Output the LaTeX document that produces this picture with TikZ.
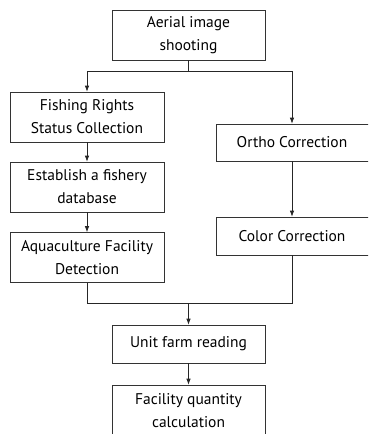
\documentclass[tikz,border=0pt]{standalone}
\usepackage{fontspec}
\setmainfont{PT Sans}
\usetikzlibrary{arrows.meta,positioning}

\tikzset{
  box/.style={draw=black!80, line width=0.7pt, minimum height=50pt,
    align=center, inner sep=2pt, font=\fontsize{15.5}{23}\selectfont},
  flow/.style={draw=black!85, line width=0.7pt, -{Latex[length=6pt,width=4.5pt]}},
  link/.style={draw=black!85, line width=0.7pt}
}

\begin{document}
\begin{tikzpicture}[x=1pt,y=-1pt]
  \useasboundingbox (0,0) rectangle (368,434);
  \clip (0,0) rectangle (368,434);

  % boxes
  \node[box, minimum width=153pt] (aerial) at (188.5,35) {Aerial image\\shooting};
  \node[box, minimum width=154pt] (fishing) at (87,117) {Fishing Rights\\Status Collection};
  \node[box, minimum width=154pt] (establish) at (87,187) {Establish a fishery\\database};
  \node[box, minimum width=154pt] (aqua) at (87,257.5) {Aquaculture Facility\\Detection};
  \node[box, minimum width=160pt, minimum height=37pt] (ortho) at (296,142.5) {\hspace*{-8pt}Ortho Correction};
  \node[box, minimum width=160pt, minimum height=38pt] (color) at (296,236) {\hspace*{-8pt}Color Correction};
  \node[box, minimum width=153pt, minimum height=38pt] (unit) at (188.5,344) {Unit farm reading};
  \node[box, minimum width=153pt, minimum height=52pt] (facility) at (188.5,411) {Facility quantity\\calculation};

  % branch and merge points
  \coordinate (split) at (188.5,71);
  \coordinate (splitL) at (87,71);
  \coordinate (splitR) at (292,71);
  \coordinate (merge) at (188.5,303);
  \coordinate (mergeL) at (87,303);
  \coordinate (mergeR) at (292,303);

  % connectors
  \draw[link] (aerial.south) -- (split);
  \draw[link] (splitL) -- (splitR);
  \draw[flow] (splitL) -- (fishing.north);
  \draw[flow] (splitR) -- (splitR |- ortho.north);
  \draw[flow] (fishing) -- (establish);
  \draw[flow] (establish) -- (aqua);
  \draw[flow] (splitR |- ortho.south) -- (splitR |- color.north);
  \draw[link] (aqua.south) -- (mergeL) -- (mergeR) -- (mergeR |- color.south);
  \draw[flow] (merge) -- (unit.north);
  \draw[flow] (unit) -- (facility);
\end{tikzpicture}
\end{document}
